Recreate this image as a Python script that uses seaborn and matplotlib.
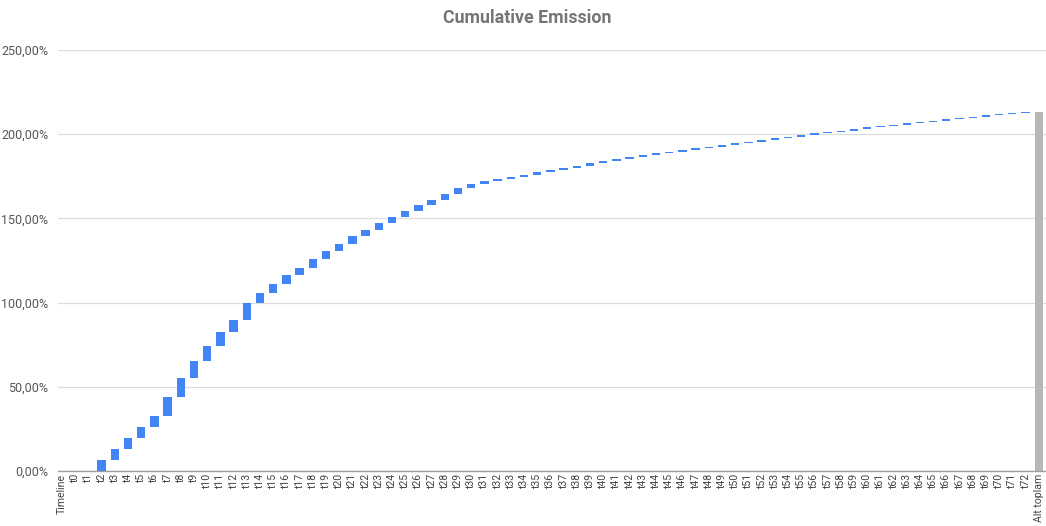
import numpy as np
import pandas as pd
import matplotlib
matplotlib.use("Agg")
import matplotlib.pyplot as plt
import seaborn as sns
from matplotlib.ticker import FuncFormatter

# Kategoriler: Timeline, t0..t72, Alt toplam
periods = ["t%d" % i for i in range(73)]
categories = ["Timeline"] + periods + ["Alt toplam"]

# Kümülatif emisyon (%), t0..t72 sonunda okunan değerler
cumulative_pct = [
    0.0, 0.0, 6.3, 12.9, 19.6, 26.2, 32.5, 44.2, 55.4, 65.2,
    74.2, 82.3, 89.6, 99.6, 105.5, 110.9, 116.2, 120.8, 125.8, 130.4,
    134.9, 139.3, 143.2, 147.2, 150.8, 154.5, 158.1, 161.1, 164.5, 167.9,
    170.6, 172.0, 173.4, 174.8, 175.9, 177.4, 178.6, 180.0, 181.2, 182.8,
    184.0, 185.1, 186.5, 187.5, 188.7, 189.6, 190.7, 191.7, 192.6, 193.6,
    194.6, 195.6, 196.6, 197.6, 198.6, 199.6, 200.6, 201.2, 202.1, 203.2,
    204.2, 204.8, 205.7, 206.5, 207.1, 208.1, 208.9, 209.7, 210.3, 211.3,
    212.1, 212.8, 213.4,
]
total_pct = 213.4

# Waterfall: her adım bir önceki kümülatif değerden başlar
ends = np.array(cumulative_pct)
starts = np.concatenate([[0.0], ends[:-1]])
heights = np.concatenate([[0.0], ends - starts, [total_pct]])
bottoms = np.concatenate([[0.0], starts, [0.0]])

df = pd.DataFrame({"category": categories, "delta": heights})

sns.set_theme(style="white")
plt.rcParams["font.family"] = ["Roboto", "DejaVu Sans"]

fig = plt.figure(figsize=(10.46, 5.26), dpi=100)
ax = fig.add_axes([58 / 1046, 55 / 526, 988 / 1046, 421 / 526])

sns.barplot(data=df, x="category", y="delta", order=categories,
            color="#4285f4", width=0.63, bottom=bottoms,
            linewidth=0, saturation=1, ax=ax, zorder=3)
# toplam çubuğu gri
ax.patches[-1].set_facecolor("#b7b7b7")

ax.set_xlim(-0.3, len(categories) - 0.45)
ax.set_ylim(0, 250)
ax.set_yticks([0, 50, 100, 150, 200, 250])
ax.yaxis.set_major_formatter(FuncFormatter(lambda v, p: f"{v:.2f}%".replace(".", ",")))
ax.grid(axis="y", color="#dcdcdc", linewidth=0.9, zorder=0)
ax.set_axisbelow(True)

for s in ["top", "right", "left"]:
    ax.spines[s].set_visible(False)
ax.spines["bottom"].set_color("#9e9e9e")
ax.spines["bottom"].set_linewidth(1.0)

ax.set_xlabel("")
ax.set_ylabel("")
ax.tick_params(axis="y", labelsize=9, colors="#555555", length=0, pad=7)
ax.tick_params(axis="x", labelsize=7.6, colors="#444444", length=0, pad=2)
plt.setp(ax.get_xticklabels(), rotation=90)

fig.suptitle("Cumulative Emission", x=0.504, y=0.983, fontsize=12.8,
             fontweight="bold", color="#757575")

fig.savefig("out.png", dpi=100)
